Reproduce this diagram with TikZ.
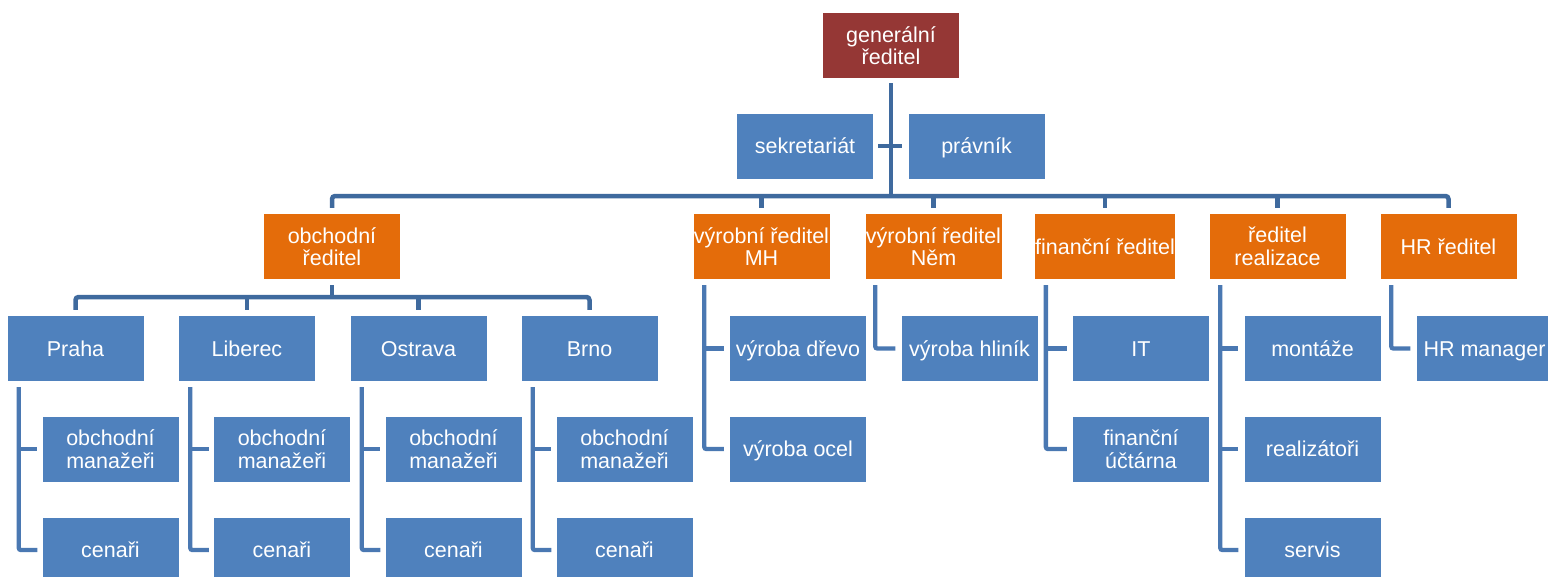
\documentclass[tikz,border=0pt]{standalone}
\usepackage{fontspec}
\setmainfont{Liberation Sans}
\definecolor{bxblue}{HTML}{4F81BD}
\definecolor{bxorange}{HTML}{E46C0A}
\definecolor{bxred}{HTML}{953735}
\definecolor{lndark}{HTML}{3F6A9E}
\definecolor{lnmid}{HTML}{4A78B2}
\tikzset{
  bx/.style={rectangle, minimum width=136pt, minimum height=65pt, inner sep=0pt,
    text=white, align=center, font=\fontsize{21.5}{22.5}\selectfont},
  one/.style={text height=15.5pt, text depth=0pt},
  bl/.style={bx, fill=bxblue},
  og/.style={bx, fill=bxorange},
  rd/.style={bx, fill=bxred},
  conn/.style={draw=lndark, line width=4.5pt},
  subc/.style={draw=lnmid, line width=4.3pt, rounded corners=2pt},
}
\begin{document}
\begin{tikzpicture}[x=1pt,y=-1pt]
\useasboundingbox (0,0) rectangle (1548,576);
% level 1
\node[rd] (gen) at (891,45.5) {generální\\ředitel};
\node[bl,one] (sek) at (805,146) {sekretariát};
\node[bl,one] (pra) at (976.5,146) {právník};
% level 2
\node[og] (obch) at (332,246.5) {obchodní\\ředitel};
\node[og] (mh) at (761.5,246.5) {výrobní ředitel\\MH};
\node[og] (nem) at (933.5,246.5) {výrobní ředitel\\Něm};
\node[og,one] (fin) at (1105,246.5) {finanční ředitel};
\node[og] (real) at (1277.5,246.5) {ředitel\\realizace};
\node[og,one] (hr) at (1448.5,246.5) {HR ředitel};
% level 3 (branches)
\node[bl,one] (praha) at (75.5,348.5) {Praha};
\node[bl,one] (lib) at (247,348.5) {Liberec};
\node[bl,one] (ost) at (418.5,348.5) {Ostrava};
\node[bl,one] (brno) at (589.5,348.5) {Brno};
\node[bl] (pm) at (110.5,449) {obchodní\\manažeři};
\node[bl,one] (pc) at (110.5,550) {cenaři};
\node[bl] (lm) at (282,449) {obchodní\\manažeři};
\node[bl,one] (lc) at (282,550) {cenaři};
\node[bl] (om) at (453.5,449) {obchodní\\manažeři};
\node[bl,one] (oc) at (453.5,550) {cenaři};
\node[bl] (bm) at (624.5,449) {obchodní\\manažeři};
\node[bl,one] (bc) at (624.5,550) {cenaři};
% level 2 children
\node[bl,one] (dre) at (798,348.5) {výroba dřevo};
\node[bl,one] (oce) at (798,449) {výroba ocel};
\node[bl,one] (hli) at (969.5,348.5) {výroba hliník};
\node[bl,one] (it) at (1141,348.5) {IT};
\node[bl] (uct) at (1141,449) {finanční\\účtárna};
\node[bl,one] (mon) at (1312.5,348.5) {montáže};
\node[bl,one] (rea) at (1312.5,449) {realizátoři};
\node[bl,one] (ser) at (1312.5,550) {servis};
\node[bl,one] (hrm) at (1484.5,348.5) {HR manager};
% connectors level 1
\coordinate (bus) at (891,196);
\draw[conn,shorten <=5pt] (gen.south) -- (bus);
\draw[conn,shorten <=5pt,shorten >=6pt] (sek.east) -- (pra.west);
\draw[conn,rounded corners=3pt,shorten <=6pt,shorten >=6pt] (obch.north) |- (bus) -| (hr.north);
\foreach \n in {mh,nem,fin,real}{
  \draw[conn,shorten >=6pt] (\n.north |- bus) -- (\n.north);
}
% obchodni subtree
\coordinate (obus) at (332,297);
\draw[conn,shorten <=6pt] (obch.south) -- (obus);
\draw[conn,rounded corners=3pt,shorten <=6pt,shorten >=6pt] (praha.north) |- (obus) -| (brno.north);
\foreach \n in {lib,ost}{
  \draw[conn,shorten >=6pt] (\n.north |- obus) -- (\n.north);
}
% vertical sub-trees
\draw[subc,shorten <=6pt,shorten >=5pt] ([xshift=11.5pt]praha.south west) |- (pc.west);
\draw[subc,shorten >=5pt] ([xshift=11.5pt]praha.south west |- pm.west) -- (pm.west);
\draw[subc,shorten <=6pt,shorten >=5pt] ([xshift=11.5pt]lib.south west) |- (lc.west);
\draw[subc,shorten >=5pt] ([xshift=11.5pt]lib.south west |- lm.west) -- (lm.west);
\draw[subc,shorten <=6pt,shorten >=5pt] ([xshift=11.5pt]ost.south west) |- (oc.west);
\draw[subc,shorten >=5pt] ([xshift=11.5pt]ost.south west |- om.west) -- (om.west);
\draw[subc,shorten <=6pt,shorten >=5pt] ([xshift=11.5pt]brno.south west) |- (bc.west);
\draw[subc,shorten >=5pt] ([xshift=11.5pt]brno.south west |- bm.west) -- (bm.west);
\draw[subc,shorten <=6pt,shorten >=6pt] ([xshift=11pt]mh.south west) |- (oce.west);
\draw[subc,shorten >=6pt] ([xshift=11pt]mh.south west |- dre.west) -- (dre.west);
\draw[subc,shorten <=6pt,shorten >=6pt] ([xshift=10pt]nem.south west) |- (hli.west);
\draw[subc,shorten <=6pt,shorten >=6pt] ([xshift=11pt]fin.south west) |- (uct.west);
\draw[subc,shorten >=6pt] ([xshift=11pt]fin.south west |- it.west) -- (it.west);
\draw[subc,shorten <=6pt,shorten >=6pt] ([xshift=11pt]real.south west) |- (ser.west);
\draw[subc,shorten >=6pt] ([xshift=11pt]real.south west |- mon.west) -- (mon.west);
\draw[subc,shorten >=6pt] ([xshift=11pt]real.south west |- rea.west) -- (rea.west);
\draw[subc,shorten <=6pt,shorten >=6pt] ([xshift=11pt]hr.south west) |- (hrm.west);
\end{tikzpicture}
\end{document}
